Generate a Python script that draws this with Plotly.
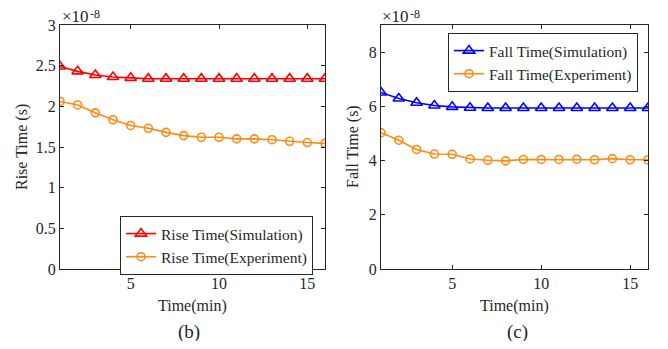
import plotly.graph_objects as go

time_min = list(range(1, 17))
rise_sim = [2.49, 2.43, 2.385, 2.36, 2.35, 2.34, 2.34, 2.34, 2.34, 2.34, 2.34, 2.34, 2.34, 2.34, 2.34, 2.34]
rise_exp = [2.06, 2.017, 1.92, 1.835, 1.765, 1.73, 1.68, 1.64, 1.62, 1.62, 1.60, 1.60, 1.59, 1.57, 1.555, 1.545]
fall_sim = [6.51, 6.29, 6.13, 6.03, 5.98, 5.95, 5.94, 5.94, 5.94, 5.94, 5.94, 5.94, 5.94, 5.94, 5.94, 5.94]
fall_exp = [5.03, 4.75, 4.41, 4.24, 4.23, 4.06, 4.01, 3.99, 4.04, 4.04, 4.04, 4.05, 4.03, 4.07, 4.03, 4.03]
x_ticks = [5, 10, 15]
rise_ticks = [0, 0.5, 1, 1.5, 2, 2.5, 3]
rise_labels = ["0", "0.5", "1", "1.5", "2", "2.5", "3"]
fall_ticks = [0, 2, 4, 6, 8]

RED = "#FF0000"
ORANGE = "#FF8A10"
BLUE = "#0000FF"
FONT = "Liberation Serif"
INK = "#262626"
# the page body adds an 8px margin, so the figure is 16px smaller and all
# reference pixel positions are shifted by OFF
OFF = 8
W, H = 668 - 2 * OFF, 349 - 2 * OFF

def px(x):
    return (x - OFF) / W

def py(y):
    return 1 - (y - OFF) / H

fig = go.Figure()

def tri(name, x, y, color, xa, ya, legend):
    return go.Scatter(x=x, y=y, name=name, mode="lines+markers",
                      line=dict(color=color, width=1.6),
                      marker=dict(symbol="triangle-up-open", size=10, color=color, line=dict(width=1.6, color=color)),
                      xaxis=xa, yaxis=ya, legend=legend)

def circ(name, x, y, color, xa, ya, legend):
    return go.Scatter(x=x, y=y, name=name, mode="lines+markers",
                      line=dict(color=color, width=1.6),
                      marker=dict(symbol="circle-open", size=8, color=color, line=dict(width=1.6, color=color)),
                      xaxis=xa, yaxis=ya, legend=legend)

fig.add_trace(tri("Rise Time(Simulation)", time_min, rise_sim, RED, "x", "y", "legend"))
fig.add_trace(circ("Rise Time(Experiment)", time_min, rise_exp, ORANGE, "x", "y", "legend"))
fig.add_trace(tri("Fall Time(Simulation)", time_min, fall_sim, BLUE, "x2", "y2", "legend2"))
fig.add_trace(circ("Fall Time(Experiment)", time_min, fall_exp, ORANGE, "x2", "y2", "legend2"))

ydom = [py(269), py(25)]
tfont = dict(family=FONT, size=16, color=INK)
axis_common = dict(showline=True, linecolor=INK, linewidth=1.2, mirror="ticks",
                   ticks="inside", ticklen=4, tickcolor=INK, showgrid=False, zeroline=False,
                   tickfont=tfont, automargin=False)

legend_common = dict(xanchor="right", yanchor="top", bgcolor="white", bordercolor=INK, borderwidth=1,
                     font=dict(family=FONT, size=15.5, color=INK), tracegroupgap=0, itemwidth=30)

fig.update_layout(
    width=W, height=H, margin=dict(l=0, r=0, t=0, b=0, autoexpand=False),
    paper_bgcolor="white", plot_bgcolor="white",
    font=tfont,
    xaxis=dict(domain=[px(60), px(325)], range=[1, 16], tickvals=x_ticks, anchor="y", **axis_common),
    yaxis=dict(domain=ydom, range=[0, 3], tickvals=rise_ticks, ticktext=rise_labels, anchor="x", **axis_common),
    xaxis2=dict(domain=[px(381), px(648)], range=[1, 16], tickvals=x_ticks, anchor="y2", **axis_common),
    yaxis2=dict(domain=ydom, range=[0, 9], tickvals=fall_ticks, anchor="x2", **axis_common),
    legend=dict(x=px(313), y=py(216), **legend_common),
    legend2=dict(x=px(638), y=py(33), **legend_common),
    showlegend=True,
)

annots = [
    dict(text="×10", x=px(61), y=py(17), xanchor="left", yanchor="middle", size=17, angle=0),
    dict(text="-8", x=px(89), y=py(13.5), xanchor="left", yanchor="middle", size=12, angle=0),
    dict(text="×10", x=px(381), y=py(17), xanchor="left", yanchor="middle", size=17, angle=0),
    dict(text="-8", x=px(409), y=py(13.5), xanchor="left", yanchor="middle", size=12, angle=0),
    dict(text="Time(min)", x=px(192), y=py(306), xanchor="center", yanchor="middle", size=16, angle=0),
    dict(text="Time(min)", x=px(514), y=py(306), xanchor="center", yanchor="middle", size=16, angle=0),
    dict(text="Rise Time (s)", x=px(22), y=py(147), xanchor="center", yanchor="middle", size=16, angle=-90),
    dict(text="Fall Time (s)", x=px(353), y=py(147), xanchor="center", yanchor="middle", size=16, angle=-90),
    dict(text="(b)", x=px(189), y=py(332), xanchor="center", yanchor="middle", size=19, angle=0),
    dict(text="(c)", x=px(517), y=py(332), xanchor="center", yanchor="middle", size=19, angle=0),
]
for a in annots:
    fig.add_annotation(xref="paper", yref="paper", showarrow=False, text=a["text"], x=a["x"], y=a["y"],
                       xanchor=a["xanchor"], yanchor=a["yanchor"], textangle=a["angle"], borderpad=0,
                       font=dict(family=FONT, size=a["size"], color=INK))

fig.write_html("out.html")
